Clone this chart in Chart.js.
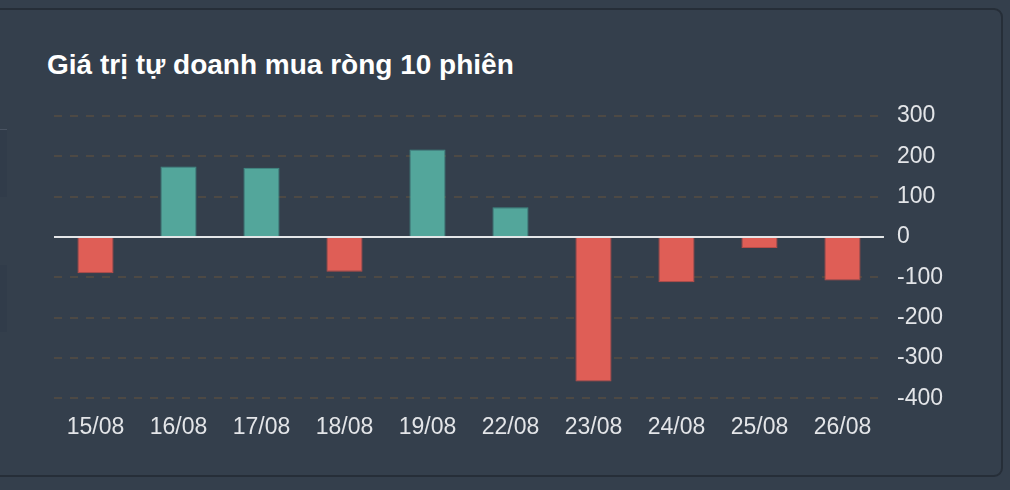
<!DOCTYPE html>
<html lang="vi">
<head>
    <meta charset="UTF-8">
    <title>Giá trị tự doanh mua ròng 10 phiên</title>
    <style>
        body {
            margin: 0;
            width: 1010px;
            height: 490px;
            background-color: #343f4c;
            font-family: "Liberation Sans", Arial, Helvetica, sans-serif;
            position: relative;
            overflow: hidden;
        }

        .card {
            position: absolute;
            left: -12px;
            top: 8px;
            width: 1011px;
            height: 465px;
            border: 2px solid #262e38;
            border-radius: 9px;
            background-color: #343f4c;
        }

        .side-block {
            position: absolute;
            left: 0;
            width: 7px;
            background-color: #313c4a;
            border-top: 1px solid #4a5462;
        }

        h3 {
            position: absolute;
            left: 47px;
            top: 49px;
            margin: 0;
            color: #fff;
            font-size: 28px;
            font-weight: bold;
        }

        #chart {
            position: absolute;
            left: 0;
            top: 0;
        }
    </style>
    <script src="https://cdn.jsdelivr.net/npm/chart.js"></script>
</head>
<body>
<div class="card"></div>
<div class="side-block" style="top:129px;height:67px"></div>
<div class="side-block" style="top:265px;height:67px;border-top:none"></div>
<h3>Giá trị tự doanh mua ròng 10 phiên</h3>
<canvas id="chart" width="1010" height="490"></canvas>
<script>
    const sessions = ['15/08', '16/08', '17/08', '18/08', '19/08', '22/08', '23/08', '24/08', '25/08', '26/08'];
    const netBuy = [-90, 175, 172, -86, 217, 74, -358, -112, -27, -108];
    const yTicks = [300, 200, 100, 0, -100, -200, -300, -400];

    const upFill = '#53a69b', upBorder = '#3f8a84';
    const downFill = '#df5e56', downBorder = '#b84c48';

    // white line at zero
    const zeroLine = {
        id: 'zeroLine',
        afterDatasetsDraw(chart) {
            const y = chart.scales.y.getPixelForValue(0);
            const area = chart.chartArea;
            const ctx = chart.ctx;
            ctx.save();
            ctx.strokeStyle = '#e4e6e8';
            ctx.lineWidth = 2;
            ctx.beginPath();
            ctx.moveTo(area.left, y);
            ctx.lineTo(area.right, y);
            ctx.stroke();
            ctx.restore();
        }
    };

    new Chart(document.getElementById('chart'), {
        type: 'bar',
        data: {
            labels: sessions,
            datasets: [{
                data: netBuy,
                backgroundColor: netBuy.map(v => v >= 0 ? upFill : downFill),
                borderColor: netBuy.map(v => v >= 0 ? upBorder : downBorder),
                borderWidth: 1,
                barPercentage: 0.87,
                categoryPercentage: 0.5
            }]
        },
        options: {
            responsive: false,
            animation: false,
            layout: {
                padding: {left: 54, top: 116, right: 54, bottom: 34}
            },
            plugins: {
                legend: {display: false},
                tooltip: {enabled: false}
            },
            scales: {
                x: {
                    grid: {display: false, drawTicks: false},
                    border: {display: false},
                    ticks: {
                        color: '#e3e5e8',
                        font: {family: '"Liberation Sans", Arial, sans-serif', size: 23},
                        padding: 15,
                        maxRotation: 0
                    }
                },
                y: {
                    position: 'right',
                    min: Math.min(...yTicks),
                    max: Math.max(...yTicks),
                    afterBuildTicks(axis) {
                        axis.ticks = yTicks.map(v => ({value: v}));
                    },
                    grid: {
                        color: '#4d4944',
                        lineWidth: 2,
                        drawTicks: false
                    },
                    border: {display: false, dash: [8, 8]},
                    ticks: {
                        color: '#e3e5e8',
                        font: {family: '"Liberation Sans", Arial, sans-serif', size: 23},
                        padding: 13
                    }
                }
            }
        },
        plugins: [zeroLine]
    });
</script>
</body>
</html>
